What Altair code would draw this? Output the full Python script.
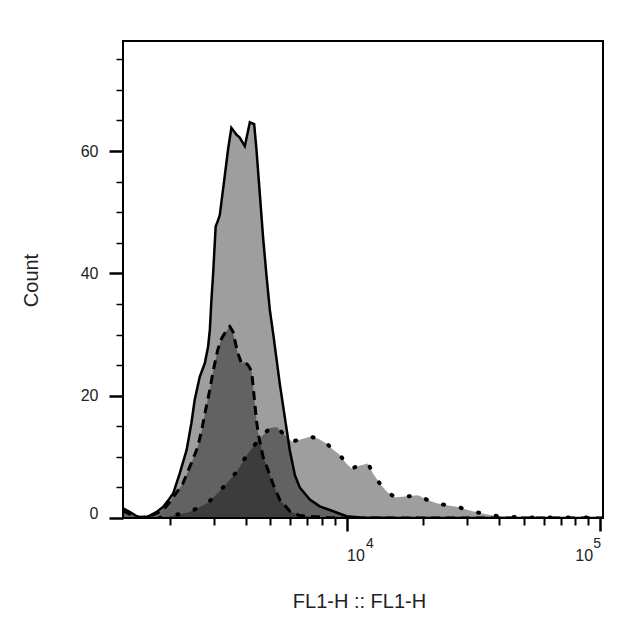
import altair as alt
import pandas as pd

# ---- data (x as log10 of FL1-H, y as count) ----
solid_log = [3.116, 3.143, 3.175, 3.203, 3.223, 3.250, 3.275, 3.294, 3.315, 3.341,
             3.368, 3.387, 3.400, 3.420, 3.440, 3.453, 3.460, 3.466, 3.473, 3.483,
             3.489, 3.499, 3.519, 3.532, 3.545, 3.565, 3.578, 3.598, 3.618, 3.635,
             3.644, 3.657, 3.670, 3.684, 3.697, 3.710, 3.736, 3.756, 3.776, 3.796,
             3.815, 3.855, 3.894, 3.934, 4.000, 4.053, 4.211, 5.013]
solid_count = [1.6, 1.0, 0.2, 0.1, 0.4, 1.0, 1.8, 2.8, 4.0, 7.3,
               11.1, 15.5, 19.3, 23.1, 25.3, 28.0, 30.8, 35.5, 40.0, 47.7,
               48.3, 49.5, 56.0, 60.3, 63.8, 62.7, 62.2, 60.8, 64.7, 64.4,
               60.3, 53.2, 46.0, 39.5, 34.0, 30.2, 22.0, 16.5, 11.0, 7.0,
               5.0, 3.0, 1.9, 1.3, 0.3, 0.1, 0.0, 0.0]

dashed_log = [3.116, 3.151, 3.183, 3.223, 3.262, 3.286, 3.302, 3.315, 3.353, 3.392,
              3.412, 3.428, 3.440, 3.460, 3.472, 3.491, 3.507, 3.523, 3.539, 3.551,
              3.559, 3.570, 3.585, 3.598, 3.611, 3.625, 3.631, 3.644, 3.651, 3.670,
              3.684, 3.697, 3.710, 3.736, 3.749, 3.776, 3.815, 3.881, 3.934, 4.000, 5.013]
dashed_count = [1.2, 0.5, 0.1, 0.3, 1.0, 1.8, 2.6, 3.4, 5.6, 9.5,
                11.6, 14.4, 17.0, 21.0, 23.8, 27.5, 29.4, 30.5, 31.3, 30.5,
                29.0, 27.0, 25.3, 25.5, 25.0, 24.0, 21.5, 16.0, 13.8, 10.0,
                8.5, 7.0, 5.5, 3.0, 2.4, 1.1, 0.4, 0.2, 0.05, 0.0, 0.0]

dotted_log = [3.262, 3.302, 3.381, 3.453, 3.506, 3.565, 3.611, 3.657, 3.697, 3.725,
              3.749, 3.783, 3.815, 3.855, 3.887, 3.921, 3.946, 3.974, 3.997, 4.020,
              4.053, 4.085, 4.104, 4.132, 4.159, 4.191, 4.230, 4.283, 4.317, 4.356,
              4.396, 4.441, 4.479, 4.520, 4.566, 4.599, 4.645, 4.692, 4.776, 4.843,
              4.934, 5.013]
dotted_count = [0.0, 0.3, 1.0, 2.5, 4.7, 7.5, 10.6, 13.0, 14.7, 14.9,
                13.8, 12.5, 12.8, 13.3, 13.0, 12.2, 11.2, 10.3, 9.0, 8.1,
                8.6, 8.9, 7.3, 5.6, 4.3, 3.4, 3.5, 3.7, 3.0, 2.4,
                2.1, 1.8, 1.3, 0.9, 0.5, 0.3, 0.2, 0.1, 0.1, 0.05,
                0.1, 0.05]

x_major = [10000, 100000]
x_minor = [2000, 3000, 4000, 5000, 6000, 7000, 8000, 9000,
           20000, 30000, 40000, 50000, 60000, 70000, 80000, 90000]
y_major = [0, 20, 40, 60]
y_minor = [5, 10, 15, 25, 30, 35, 45, 50, 55, 65, 70, 75]
x_title = "FL1-H :: FL1-H"
y_title = "Count"


def frame(name, logs, counts):
    return pd.DataFrame({"series": name,
                         "fl1": [10 ** v for v in logs],
                         "count": counts})


df = pd.concat([frame("solid", solid_log, solid_count),
                frame("dashed", dashed_log, dashed_count),
                frame("dotted", dotted_log, dotted_count)], ignore_index=True)

FONT = "Liberation Sans"
TXT = "#222222"

xs = alt.Scale(type="log", domain=[1309, 103000], nice=False)
ys = alt.Scale(domain=[0, 78], nice=False, zero=False)

ax_major_x = alt.Axis(
    orient="bottom", values=x_major, title=x_title, grid=False, domain=False,
    tickSize=13, tickWidth=2.5, tickColor="black",
    labelExpr="'10'", labelFont=FONT, labelFontSize=16, labelColor=TXT,
    labelAlign="left",
    labelOffset={"condition": {"test": "datum.value == 100000", "value": -25}, "value": 0},
    labelPadding=16, labelFlush=False, labelOverlap=False, labelBound=False,
    titleFont=FONT, titleFontSize=20, titleFontWeight="normal", titleColor=TXT,
    titleX=236, titleY=83, titleBaseline="middle", titleAlign="center",
)
ax_minor_x = alt.Axis(
    orient="bottom", values=x_minor, title=None, grid=False, domain=False,
    tickSize=7, tickWidth=2, tickColor="black", labels=False,
)
ax_exp_x = alt.Axis(
    orient="bottom", values=x_major, title=None, grid=False, domain=False,
    ticks=False, tickSize=0,
    labelExpr="datum.value == 10000 ? '4' : '5'", labelFont=FONT, labelFontSize=14,
    labelColor=TXT, labelAlign="left",
    labelOffset={"condition": {"test": "datum.value == 100000", "value": -7}, "value": 19},
    labelPadding=18, labelFlush=False, labelOverlap=False, labelBound=False,
)
ax_major_y = alt.Axis(
    orient="left", values=y_major, title=y_title, grid=False, domain=False,
    tickSize=14, tickWidth=2.5, tickColor="black",
    labelFont=FONT, labelFontSize=16, labelColor=TXT, labelPadding=11,
    labelOffset={"condition": {"test": "datum.value == 0", "value": -5}, "value": 0},
    labelFlush=False, labelOverlap=False,
    titleFont=FONT, titleFontSize=20, titleFontWeight="normal", titleColor=TXT,
    titleAngle=270, titleX=-92, titleY=239, titleBaseline="middle", titleAlign="center",
)
ax_minor_y = alt.Axis(
    orient="left", values=y_minor, title=None, grid=False, domain=False,
    tickSize=7, tickWidth=1.5, tickColor="black", labels=False,
)

base = alt.Chart(df)

fills = base.mark_area(color="black", opacity=0.38, interpolate="linear", clip=True).encode(
    x=alt.X("fl1:Q", scale=xs, axis=ax_major_x),
    y=alt.Y("count:Q", scale=ys, stack=None, axis=ax_major_y),
    detail="series:N",
)

solid = base.transform_filter("datum.series == 'solid'").mark_line(
    color="black", strokeWidth=2.5, clip=True).encode(
    x=alt.X("fl1:Q", scale=xs, axis=ax_minor_x),
    y=alt.Y("count:Q", scale=ys, axis=ax_minor_y),
)
dashed = base.transform_filter("datum.series == 'dashed'").mark_line(
    color="black", strokeWidth=3, strokeDash=[9, 6], clip=True).encode(
    x=alt.X("fl1:Q", scale=xs, axis=ax_exp_x),
    y=alt.Y("count:Q", scale=ys, axis=None),
)
dotted = base.transform_filter("datum.series == 'dotted'").mark_line(
    color="black", strokeWidth=4, strokeDash=[1, 17], strokeCap="round", clip=True).encode(
    x=alt.X("fl1:Q", scale=xs, axis=None),
    y=alt.Y("count:Q", scale=ys, axis=None),
)

chart = alt.layer(fills, solid, dashed, dotted).resolve_axis(
    x="independent", y="independent"
).properties(
    width=480, height=477,
    autosize=alt.AutoSizeParams(type="none"),
    padding={"left": 115, "top": 33, "right": 17, "bottom": 95},
    background="white",
).configure_view(stroke="black", strokeWidth=2)

chart.save("out.html", embed_options={"renderer": "svg", "actions": False})
